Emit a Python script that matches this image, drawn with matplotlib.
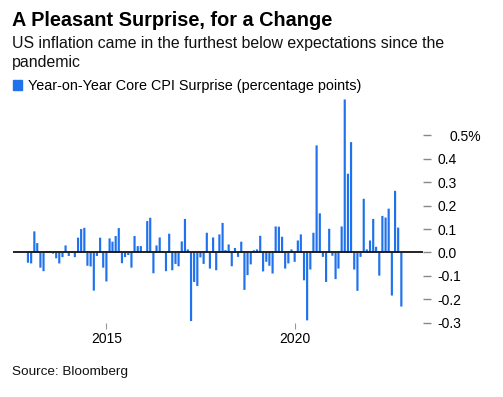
import pandas as pd
import numpy as np
import matplotlib
matplotlib.use("Agg")
import matplotlib.pyplot as plt
from matplotlib.patches import Patch
from matplotlib.transforms import ScaledTranslation

plt.rcParams['font.family'] = ['Liberation Sans', 'DejaVu Sans']

# monthly core CPI YoY surprise, Dec 2012 .. Nov 2022 (release month)
surprise = [
    -0.044, -0.047, 0.09, 0.04, -0.065, -0.08, 0.005, 0.005, -0.005, -0.025,
    -0.047, -0.02, 0.03, -0.015, 0.005, -0.02, 0.063, 0.10, 0.105, -0.057,
    -0.06, -0.163, -0.015, 0.063, -0.065, -0.124, 0.06, 0.046, 0.07, 0.104,
    -0.046, -0.02, -0.011, -0.065, 0.07, 0.027, 0.027, 0.0, 0.134, 0.148,
    -0.089, 0.03, 0.064, 0.004, -0.08, 0.08, -0.076, -0.049, -0.059, 0.047,
    0.143, 0.013, -0.293, -0.126, -0.143, -0.021, -0.049, 0.084, -0.069, 0.064,
    -0.076, 0.077, 0.126, 0.01, 0.034, -0.059, 0.019, -0.019, 0.046, -0.16,
    -0.097, -0.051, 0.009, 0.013, 0.071, -0.081, -0.04, -0.057, -0.09, 0.111,
    0.11, 0.067, -0.069, -0.047, 0.013, -0.04, 0.051, 0.077, -0.119, -0.29,
    -0.073, 0.084, 0.457, 0.167, -0.019, -0.126, 0.101, -0.014, -0.114, -0.069,
    0.111, 0.653, 0.336, 0.471, -0.073, -0.164, -0.019, 0.229, 0.013, 0.051,
    0.143, 0.024, -0.099, 0.156, 0.149, 0.187, -0.184, 0.263, 0.106, -0.231,
]
months = pd.date_range('2012-12-01', periods=len(surprise), freq='MS')

year_ticks = pd.to_datetime(['2015-01-01', '2020-01-01'])
year_labels = ['2015', '2020']
y_ticks = [-0.3, -0.2, -0.1, 0.0, 0.1, 0.2, 0.3, 0.4, 0.5]
y_labels = ['-0.3', '-0.2', '-0.1', '0.0', '0.1', '0.2', '0.3', '0.4', '0.5%']

blue = '#1f72ec'

fig = plt.figure(figsize=(5.03, 3.97), dpi=100)
ax = fig.add_axes([13 / 503, 1 - 322.7 / 397, 410 / 503, 227.2 / 397])

bars = ax.bar(months, surprise, width=21, color=blue, linewidth=0)
for b in bars:
    b.set_snap(False)
ax.axhline(0, color='#111111', lw=1.3, zorder=3)

ax.set_xlim(pd.Timestamp('2012-07-09'), pd.Timestamp('2023-05-30'))
ax.set_ylim(-0.3, 0.67)

ax.set_xticks(year_ticks)
ax.set_xticklabels(year_labels)
ax.set_yticks(y_ticks)
ax.set_yticklabels(y_labels)
ax.yaxis.tick_right()

for s in ax.spines.values():
    s.set_visible(False)

ax.tick_params(axis='x', length=4, width=0.8, color='#999999', labelsize=10, pad=3)
ax.tick_params(axis='y', length=6, width=1, color='#888888', labelsize=10, pad=4.7)
for lab in ax.get_yticklabels():
    lab.set_horizontalalignment('left')
# the % label sits a bit further right
top = ax.get_yticklabels()[-1]
top.set_transform(top.get_transform() + ScaledTranslation(12 / 100, 0, fig.dpi_scale_trans))

fig.text(12 / 503, 1 - 26 / 397, 'A Pleasant Surprise, for a Change',
         fontsize=14.3, fontweight='bold', color='black', va='baseline')
fig.text(12 / 503, 1 - 48.3 / 397,
         'US inflation came in the furthest below expectations since the',
         fontsize=11.4, color='#111111', va='baseline')
fig.text(12 / 503, 1 - 66.7 / 397, 'pandemic',
         fontsize=11.4, color='#111111', va='baseline')
fig.text(12 / 503, 1 - 375 / 397, 'Source: Bloomberg', fontsize=9.7,
         color='#111111', va='baseline')

fig.legend(handles=[Patch(color=blue)],
           labels=['Year-on-Year Core CPI Surprise (percentage points)'],
           loc='upper left', bbox_to_anchor=(13 / 503, 1 - 79 / 397),
           frameon=False, fontsize=10.4, handlelength=0.62, handleheight=0.62,
           handletextpad=0.4, borderpad=0, borderaxespad=0)

fig.savefig('out.png', dpi=100)
